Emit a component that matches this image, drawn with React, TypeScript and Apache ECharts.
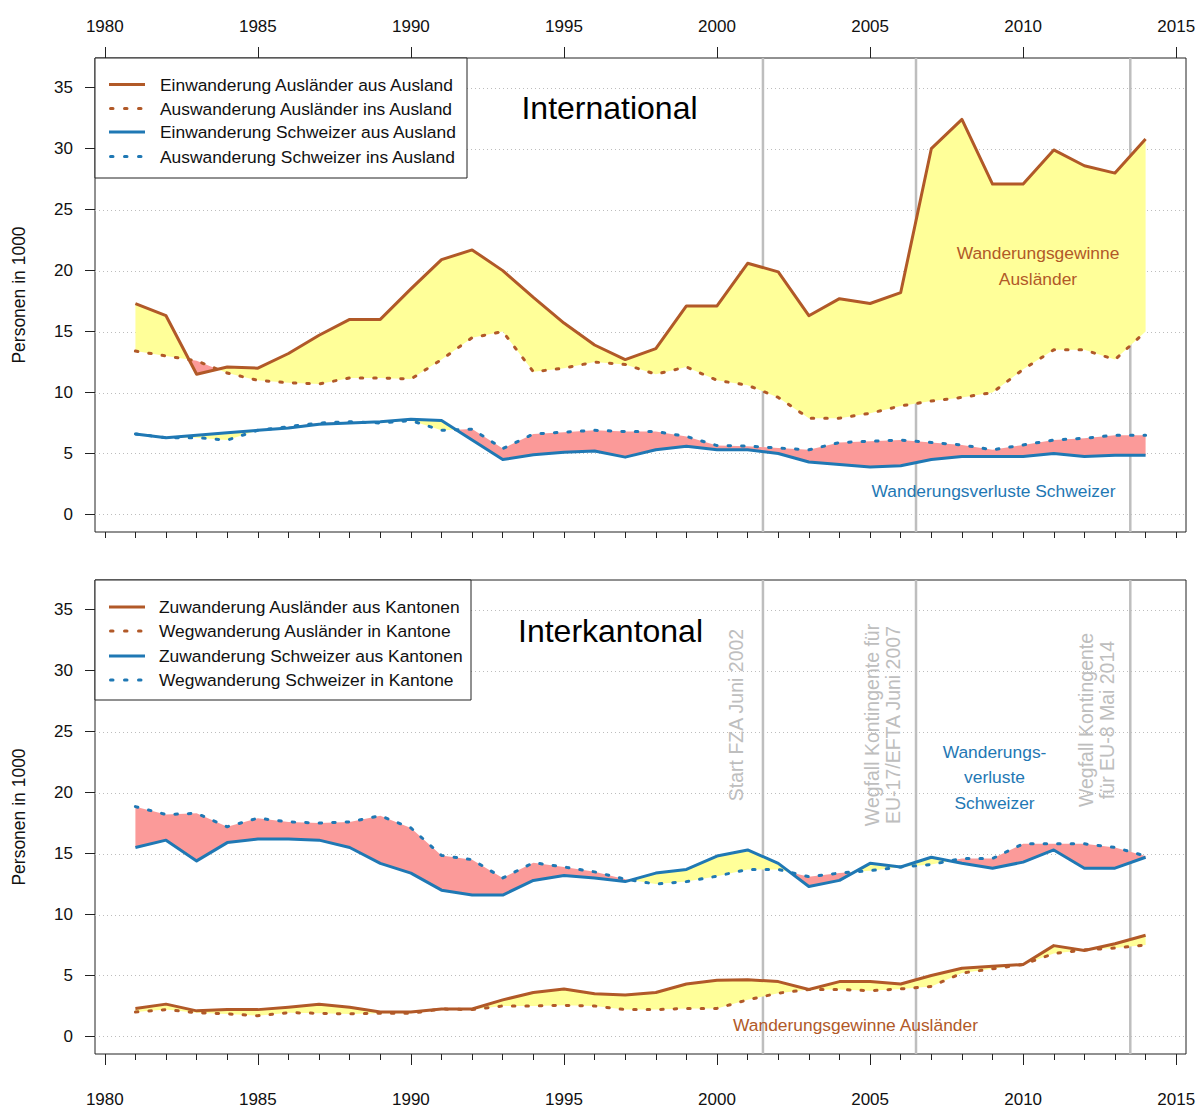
import React, { useEffect, useRef } from "react";
import * as echarts from "echarts";

// ---------------- data ----------------
const years = [
  1981, 1982, 1983, 1984, 1985, 1986, 1987, 1988, 1989, 1990, 1991, 1992,
  1993, 1994, 1995, 1996, 1997, 1998, 1999, 2000, 2001, 2002, 2003, 2004,
  2005, 2006, 2007, 2008, 2009, 2010, 2011, 2012, 2013, 2014,
];
const xMajorTicks = [1980, 1985, 1990, 1995, 2000, 2005, 2010, 2015];
const xMinorTicks = [
  1980, 1981, 1982, 1983, 1984, 1985, 1986, 1987, 1988, 1989, 1990, 1991,
  1992, 1993, 1994, 1995, 1996, 1997, 1998, 1999, 2000, 2001, 2002, 2003,
  2004, 2005, 2006, 2007, 2008, 2009, 2010, 2011, 2012, 2013, 2014, 2015,
];
const yTicks = [0, 5, 10, 15, 20, 25, 30, 35];
const eventLines = [2001.5, 2006.5, 2013.5];

// International
const einwAuslaender = [
  17.3, 16.3, 11.5, 12.1, 12.0, 13.2, 14.7, 16.0, 16.0, 18.5, 20.9, 21.7,
  20.0, 17.8, 15.7, 13.9, 12.7, 13.6, 17.1, 17.1, 20.6, 19.9, 16.3, 17.7,
  17.3, 18.2, 30.0, 32.4, 27.1, 27.1, 29.9, 28.6, 28.0, 30.8,
];
const auswAuslaender = [
  13.4, 13.0, 12.6, 11.6, 11.0, 10.8, 10.7, 11.2, 11.2, 11.1, 12.7, 14.5,
  15.0, 11.7, 12.0, 12.5, 12.3, 11.5, 12.1, 11.0, 10.6, 9.6, 7.9, 7.9,
  8.3, 8.9, 9.3, 9.6, 10.0, 11.9, 13.5, 13.5, 12.7, 15.0,
];
const einwSchweizer = [
  6.6, 6.3, 6.5, 6.7, 6.9, 7.1, 7.4, 7.5, 7.6, 7.8, 7.7, 6.1,
  4.5, 4.9, 5.1, 5.2, 4.7, 5.3, 5.6, 5.3, 5.3, 5.0, 4.3, 4.1,
  3.9, 4.0, 4.5, 4.75, 4.75, 4.75, 5.0, 4.75, 4.85, 4.85,
];
const auswSchweizer = [
  6.6, 6.3, 6.3, 6.1, 6.9, 7.2, 7.5, 7.6, 7.5, 7.7, 6.9, 7.0,
  5.4, 6.6, 6.75, 6.9, 6.8, 6.8, 6.4, 5.65, 5.6, 5.45, 5.3, 5.9,
  6.0, 6.1, 5.9, 5.7, 5.3, 5.7, 6.1, 6.25, 6.5, 6.5,
];

// Interkantonal
const zuwAuslaender = [
  2.3, 2.65, 2.1, 2.2, 2.2, 2.4, 2.65, 2.4, 2.0, 2.0, 2.25, 2.25,
  3.0, 3.6, 3.9, 3.5, 3.4, 3.6, 4.3, 4.6, 4.65, 4.5, 3.85, 4.5,
  4.5, 4.3, 5.0, 5.6, 5.75, 5.9, 7.45, 7.05, 7.6, 8.3,
];
const wegAuslaender = [
  2.0, 2.2, 1.95, 1.85, 1.7, 1.95, 1.9, 1.85, 1.9, 1.9, 2.25, 2.2,
  2.5, 2.5, 2.55, 2.5, 2.2, 2.2, 2.3, 2.3, 3.0, 3.55, 3.85, 3.85,
  3.75, 3.9, 4.1, 5.2, 5.55, 5.9, 6.8, 7.1, 7.25, 7.5,
];
const zuwSchweizer = [
  15.5, 16.1, 14.4, 15.9, 16.2, 16.2, 16.1, 15.5, 14.2, 13.4, 12.0, 11.6,
  11.6, 12.8, 13.2, 13.0, 12.7, 13.4, 13.7, 14.8, 15.3, 14.2, 12.3, 12.8,
  14.2, 13.9, 14.7, 14.2, 13.8, 14.3, 15.3, 13.8, 13.8, 14.7,
];
const wegSchweizer = [
  18.85, 18.2, 18.3, 17.2, 17.9, 17.6, 17.5, 17.6, 18.1, 17.1, 14.85, 14.5,
  13.0, 14.25, 13.9, 13.5, 12.9, 12.5, 12.7, 13.15, 13.7, 13.7, 13.1, 13.4,
  13.6, 13.9, 14.1, 14.6, 14.6, 15.8, 15.8, 15.8, 15.5, 14.8,
];

const legendTop = [
  "Einwanderung Ausländer aus Ausland",
  "Auswanderung Ausländer ins Ausland",
  "Einwanderung Schweizer aus Ausland",
  "Auswanderung Schweizer ins Ausland",
];
const legendBottom = [
  "Zuwanderung Ausländer aus Kantonen",
  "Wegwanderung Ausländer in Kantone",
  "Zuwanderung Schweizer aus Kantonen",
  "Wegwanderung Schweizer in Kantone",
];

// ---------------- style ----------------
const BROWN = "#B15928";
const BLUE = "#1F78B4";
const YELLOW = "#FFFF99";
const PINK = "#FB9A99";
const GREY = "#BEBEBE";
const FONT = "'Liberation Sans', Arial, Helvetica, sans-serif";
const X_MIN = 1979.68;
const X_MAX = 2015.32;
const Y_MIN = -1.44;
const Y_MAX = 37.44;
const DOT: number[] = [2.5, 11];

type Run = { gain: boolean; top: number[][]; bottom: number[][] };

function splitRuns(xs: number[], a: number[], b: number[]): Run[] {
  const runs: Run[] = [];
  let firstSign = true;
  for (let i = 0; i < xs.length; i++) {
    const d = a[i] - b[i];
    if (d !== 0) {
      firstSign = d > 0;
      break;
    }
  }
  let cur: Run = { gain: firstSign, top: [[xs[0], a[0]]], bottom: [[xs[0], b[0]]] };
  for (let i = 1; i < xs.length; i++) {
    const d = a[i] - b[i];
    if (d === 0 || d > 0 === cur.gain) {
      cur.top.push([xs[i], a[i]]);
      cur.bottom.push([xs[i], b[i]]);
      continue;
    }
    const dp = a[i - 1] - b[i - 1];
    const t = dp === 0 ? 0 : dp / (dp - d);
    const cx = xs[i - 1] + t * (xs[i] - xs[i - 1]);
    const cy = a[i - 1] + t * (a[i] - a[i - 1]);
    cur.top.push([cx, cy]);
    cur.bottom.push([cx, cy]);
    runs.push(cur);
    cur = { gain: d > 0, top: [[cx, cy], [xs[i], a[i]]], bottom: [[cx, cy], [xs[i], b[i]]] };
  }
  runs.push(cur);
  return runs;
}

function fillSeries(xi: number, yi: number, runs: Run[]) {
  return {
    type: "custom",
    xAxisIndex: xi,
    yAxisIndex: yi,
    z: 3,
    silent: true,
    clip: true,
    data: runs.map((r) => r.top[0]),
    encode: { x: 0, y: 1 },
    renderItem: (params: any, api: any) => {
      const r = runs[params.dataIndex];
      const pts = r.top.concat(r.bottom.slice().reverse()).map((p) => api.coord(p));
      return {
        type: "polygon",
        shape: { points: pts },
        style: { fill: r.gain ? YELLOW : PINK, stroke: null },
      };
    },
  };
}

function gridLineSeries(xi: number, yi: number) {
  return {
    type: "custom",
    xAxisIndex: xi,
    yAxisIndex: yi,
    z: 1,
    silent: true,
    data: yTicks.map((v) => [X_MIN, v]),
    encode: { x: 0, y: 1 },
    renderItem: (params: any, api: any) => {
      const v = api.value(1);
      const p1 = api.coord([X_MIN, v]);
      const p2 = api.coord([X_MAX, v]);
      return {
        type: "line",
        shape: { x1: p1[0], y1: Math.round(p1[1]) + 0.5, x2: p2[0], y2: Math.round(p2[1]) + 0.5 },
        style: { stroke: "#BDBDBD", lineWidth: 1, lineDash: [1, 3] },
      };
    },
  };
}

function eventLineSeries(xi: number, yi: number) {
  return {
    type: "custom",
    xAxisIndex: xi,
    yAxisIndex: yi,
    z: 2,
    silent: true,
    data: eventLines.map((x) => [x, Y_MIN]),
    encode: { x: 0, y: 1 },
    renderItem: (params: any, api: any) => {
      const x = api.value(0);
      const p1 = api.coord([x, Y_MIN]);
      const p2 = api.coord([x, Y_MAX]);
      return {
        type: "line",
        shape: { x1: p1[0], y1: p1[1], x2: p2[0], y2: p2[1] },
        style: { stroke: GREY, lineWidth: 2.5 },
      };
    },
  };
}

function lineSeries(name: string, xi: number, yi: number, vals: number[], color: string, dotted: boolean) {
  return {
    type: "line",
    name,
    xAxisIndex: xi,
    yAxisIndex: yi,
    z: dotted ? 5 : 4,
    silent: true,
    symbol: "none",
    showSymbol: false,
    data: years.map((y, i) => [y, vals[i]]),
    lineStyle: {
      color,
      width: 3,
      type: dotted ? DOT : "solid",
      cap: dotted ? "round" : "butt",
      join: "round",
    },
    emphasis: { disabled: true },
  };
}

const plainNum = (v: number) => String(Math.round(v));

function xAxis(grid: number, position: string, ticks: number[], len: number, labels: boolean, margin: number) {
  return {
    type: "value",
    gridIndex: grid,
    position,
    min: X_MIN,
    max: X_MAX,
    axisLine: { show: false, onZero: false },
    axisTick: { show: true, customValues: ticks, length: len, lineStyle: { color: "#222", width: 1 } },
    axisLabel: labels
      ? { show: true, customValues: ticks, margin, fontSize: 17, color: "#111", fontFamily: FONT, formatter: plainNum }
      : { show: false },
    splitLine: { show: false },
  };
}

function yAxis(grid: number) {
  return {
    type: "value",
    gridIndex: grid,
    position: "left",
    min: Y_MIN,
    max: Y_MAX,
    name: "Personen in 1000",
    nameLocation: "middle",
    nameRotate: 90,
    nameGap: 67,
    nameTextStyle: { fontSize: 17.5, color: "#111", fontFamily: FONT },
    axisLine: { show: false, onZero: false },
    axisTick: { show: true, customValues: yTicks, length: 10, lineStyle: { color: "#222", width: 1 } },
    axisLabel: { show: true, customValues: yTicks, margin: 22, fontSize: 17, color: "#111", fontFamily: FONT, formatter: plainNum },
    splitLine: { show: false },
  };
}

function legendGraphics(bx: number, by: number, bw: number, bh: number, labels: string[], rowYs: number[], textX: number) {
  const styles = [
    { color: BROWN, dotted: false },
    { color: BROWN, dotted: true },
    { color: BLUE, dotted: false },
    { color: BLUE, dotted: true },
  ];
  const els: any[] = [
    {
      type: "rect",
      z: 100,
      shape: { x: bx, y: by, width: bw, height: bh },
      style: { fill: "#fff", stroke: "#222", lineWidth: 1 },
    },
  ];
  labels.forEach((lab, i) => {
    const s = styles[i];
    els.push({
      type: "line",
      z: 101,
      shape: { x1: s.dotted ? 110.5 : 109, y1: rowYs[i], x2: 145, y2: rowYs[i] },
      style: {
        stroke: s.color,
        lineWidth: 3,
        lineDash: s.dotted ? [2.5, 11.5] : null,
        lineCap: s.dotted ? "round" : "butt",
      },
    });
    els.push({
      type: "text",
      z: 101,
      x: textX,
      y: rowYs[i],
      style: {
        text: lab,
        fill: "#111",
        fontSize: 17.4,
        fontFamily: FONT,
        align: "left",
        verticalAlign: "middle",
      },
    });
  });
  return els;
}

function textEl(text: string, x: number, y: number, color: string, size: number, lineHeight?: number, rotate?: boolean) {
  return {
    type: "text",
    z: 50,
    x,
    y,
    rotation: rotate ? Math.PI / 2 : 0,
    style: {
      text,
      fill: color,
      fontSize: size,
      fontFamily: FONT,
      align: "center",
      verticalAlign: "middle",
      lineHeight: lineHeight || size * 1.2,
    },
  };
}

export default function App() {
  const ref = useRef<HTMLDivElement>(null);

  useEffect(() => {
    if (!ref.current) return;
    const chart = echarts.init(ref.current, null, { renderer: "svg" });

    const runsTopA = splitRuns(years, einwAuslaender, auswAuslaender);
    const runsTopS = splitRuns(years, einwSchweizer, auswSchweizer);
    const runsBotA = splitRuns(years, zuwAuslaender, wegAuslaender);
    const runsBotS = splitRuns(years, zuwSchweizer, wegSchweizer);

    const option: any = {
      animation: false,
      backgroundColor: "#fff",
      textStyle: { fontFamily: FONT },
      grid: [
        { left: 95, top: 58, width: 1091, height: 474, show: true, borderColor: "#222", borderWidth: 1, backgroundColor: "transparent", outerBoundsMode: "none" },
        { left: 95, top: 580, width: 1091, height: 474, show: true, borderColor: "#222", borderWidth: 1, backgroundColor: "transparent", outerBoundsMode: "none" },
      ],
      xAxis: [
        xAxis(0, "top", xMajorTicks, 11, true, 23),
        xAxis(0, "bottom", xMinorTicks, 6, false, 0),
        xAxis(1, "bottom", xMinorTicks, 6, false, 0),
        xAxis(1, "bottom", xMajorTicks, 11, true, 37),
      ],
      yAxis: [yAxis(0), yAxis(1)],
      series: [
        gridLineSeries(0, 0),
        gridLineSeries(2, 1),
        eventLineSeries(0, 0),
        eventLineSeries(2, 1),
        fillSeries(0, 0, runsTopA),
        fillSeries(0, 0, runsTopS),
        fillSeries(2, 1, runsBotA),
        fillSeries(2, 1, runsBotS),
        lineSeries(legendTop[0], 0, 0, einwAuslaender, BROWN, false),
        lineSeries(legendTop[2], 0, 0, einwSchweizer, BLUE, false),
        lineSeries(legendTop[1], 0, 0, auswAuslaender, BROWN, true),
        lineSeries(legendTop[3], 0, 0, auswSchweizer, BLUE, true),
        lineSeries(legendBottom[0], 2, 1, zuwAuslaender, BROWN, false),
        lineSeries(legendBottom[2], 2, 1, zuwSchweizer, BLUE, false),
        lineSeries(legendBottom[1], 2, 1, wegAuslaender, BROWN, true),
        lineSeries(legendBottom[3], 2, 1, wegSchweizer, BLUE, true),
      ],
      graphic: [
        ...legendGraphics(95, 58, 372, 120, legendTop, [84.5, 108.5, 132, 156.5], 160),
        ...legendGraphics(95, 580, 376, 120, legendBottom, [607, 631, 656, 680], 159),
        textEl("International", 609.5, 108, "#000", 32),
        textEl("Interkantonal", 610.5, 631, "#000", 32),
        textEl("Wanderungsgewinne\nAusländer", 1038, 266, BROWN, 17.4, 26),
        textEl("Wanderungsverluste Schweizer", 993.5, 491, BLUE, 17.4),
        textEl("Wanderungs-\nverluste\nSchweizer", 994.5, 777, BLUE, 17.4, 25.5),
        textEl("Wanderungsgewinne Ausländer", 855.5, 1025, BROWN, 17.4),
        textEl("Start FZA Juni 2002", 736, 715, GREY, 19.5, 21, true),
        textEl("Wegfall Kontingente für\nEU-17/EFTA Juni 2007", 882.5, 725, GREY, 19.5, 21, true),
        textEl("Wegfall Kontingente\nfür EU-8 Mai 2014", 1096, 720, GREY, 19.5, 21, true),
      ],
    };

    chart.setOption(option);
    return () => chart.dispose();
  }, []);

  return (
    <div
      ref={ref}
      style={{ position: "absolute", left: 0, top: 0, width: 1202, height: 1110, background: "#fff" }}
    />
  );
}
